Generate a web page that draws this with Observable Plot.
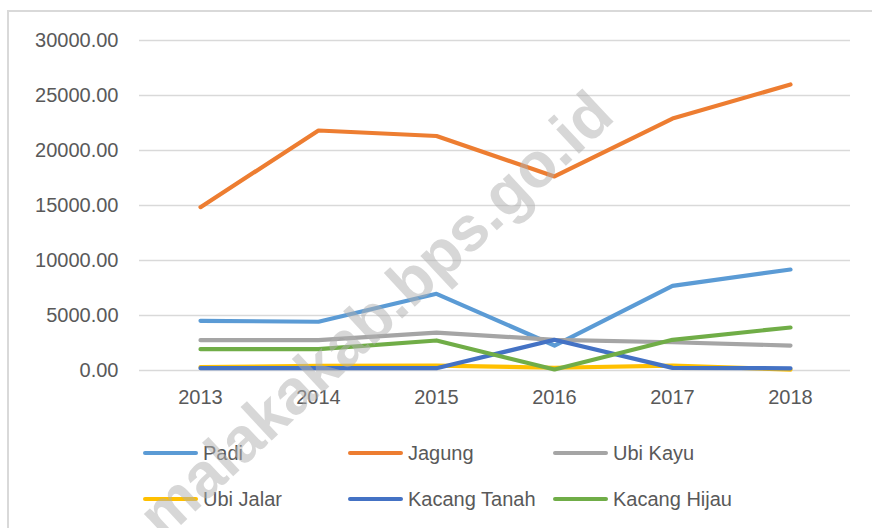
<!DOCTYPE html>
<html>
<head>
<meta charset="utf-8">
<script src="https://cdn.jsdelivr.net/npm/d3@7"></script>
<script src="https://cdn.jsdelivr.net/npm/@observablehq/plot@0.6"></script>
<style>
  html, body { margin: 0; padding: 0; background: #fff; }
  #wrap { position: relative; width: 872px; height: 528px; overflow: hidden; font-family: "Liberation Sans", Arial, sans-serif; }
  #frame { position: absolute; left: 7px; top: 10px; width: 900px; height: 600px; border-left: 2px solid #d9d9d9; border-top: 2px solid #d9d9d9; box-sizing: border-box; }
  #chart { position: absolute; left: 0; top: 0; }
  .leg { position: absolute; display: flex; align-items: center; height: 24px; font-size: 20px; color: #595959; white-space: nowrap; }
  .sw { width: 55px; height: 4px; border-radius: 2px; margin-right: 5px; }
  #wm { position: absolute; left: 0; top: 0; pointer-events: none; }
</style>
</head>
<body>
<div id="wrap">
  <div id="frame"></div>
  <div id="chart"></div>
  <div id="legend"></div>
  <svg id="wm" width="872" height="528"></svg>
</div>
<script>
const years = ["2013", "2014", "2015", "2016", "2017", "2018"];
const seriesNames = ["Padi", "Jagung", "Ubi Kayu", "Ubi Jalar", "Kacang Tanah", "Kacang Hijau"];
const padi        = [4520, 4430, 6970, 2270, 7700, 9180];
const jagung      = [14850, 21820, 21320, 17640, 22900, 26000];
const ubiKayu     = [2760, 2760, 3450, 2790, 2570, 2270];
const ubiJalar    = [300, 420, 450, 250, 450, 80];
const kacangTanah = [210, 210, 210, 2790, 240, 200];
const kacangHijau = [1940, 1940, 2730, 90, 2790, 3910];
const colors = ["#5B9BD5", "#ED7D31", "#A5A5A5", "#FFC000", "#4472C4", "#70AD47"];
const yTicks = [0, 5000, 10000, 15000, 20000, 25000, 30000];
const watermark = "malakakab.bps.go.id";

const allSeries = [padi, jagung, ubiKayu, ubiJalar, kacangTanah, kacangHijau];
const rows = [];
seriesNames.forEach((name, i) => {
  years.forEach((yr, j) => rows.push({series: name, year: yr, value: allSeries[i][j]}));
});

const plot = Plot.plot({
  width: 872,
  height: 420,
  marginLeft: 139,
  marginRight: 22,
  marginTop: 40,
  marginBottom: 50,
  style: { fontFamily: "'Liberation Sans', Arial, sans-serif", fontSize: "20px", color: "#595959", background: "transparent" },
  x: { type: "point", domain: years, padding: 0.5, label: null, tickSize: 0, tickPadding: 19 },
  y: { domain: [0, 30000], ticks: yTicks, tickFormat: d => d.toFixed(2), label: null, tickSize: 0, tickPadding: 21 },
  color: { domain: seriesNames, range: colors },
  marks: [
    Plot.ruleY(yTicks, { stroke: "#d9d9d9", strokeWidth: 1.3 }),
    ...seriesNames.map((name, i) =>
      Plot.line(rows.filter(r => r.series === name), {
        x: "year", y: "value", stroke: colors[i], strokeWidth: 4.2,
        strokeLinecap: "round", strokeLinejoin: "round"
      })
    )
  ]
});
plot.querySelectorAll("[aria-label$='axis'] path, [aria-label$='axis'] line").forEach(e => e.remove());
document.getElementById("chart").appendChild(plot);

// legend
const legPos = [[143, 453], [348, 453], [553, 453], [143, 499], [348, 499], [553, 499]];
const legend = document.getElementById("legend");
seriesNames.forEach((name, i) => {
  const d = document.createElement("div");
  d.className = "leg";
  d.style.left = legPos[i][0] + "px";
  d.style.top = (legPos[i][1] - 12) + "px";
  d.innerHTML = `<div class="sw" style="background:${colors[i]}"></div><span>${name}</span>`;
  legend.appendChild(d);
});

// watermark
const wm = d3.select("#wm");
wm.append("text")
  .attr("x", 0).attr("y", 0)
  .attr("transform", "translate(390,330) rotate(-43)")
  .attr("text-anchor", "middle")
  .attr("font-family", "'Liberation Sans', Arial, sans-serif")
  .attr("font-weight", "bold")
  .attr("font-size", 63)
  .attr("fill", "#b0b0b0")
  .attr("fill-opacity", 0.5)
  .text(watermark);
</script>
</body>
</html>
